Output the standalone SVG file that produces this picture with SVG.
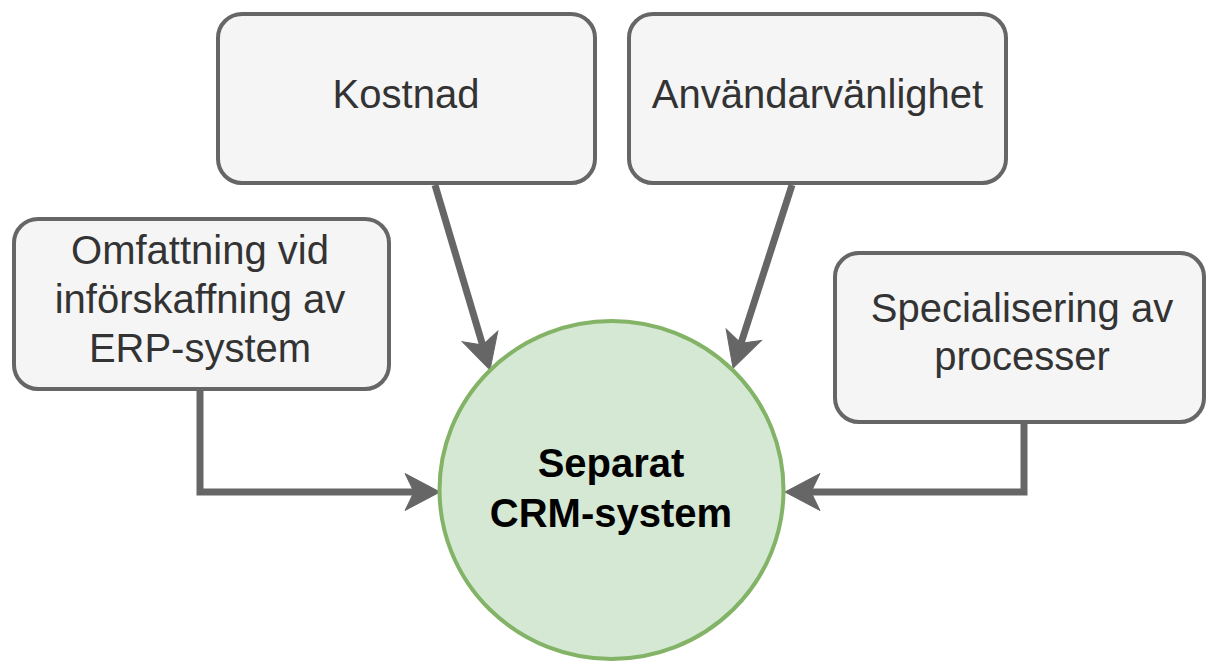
<svg xmlns="http://www.w3.org/2000/svg" width="1207" height="663" viewBox="0 0 1207 663">
  <style>
    .box { fill: #f5f5f5; stroke: #666666; stroke-width: 4; }
    .hub { fill: #d5e8d4; stroke: #82b366; stroke-width: 4; }
    .label { font-family: "Liberation Sans", Arial, sans-serif; font-size: 40px; fill: #333333; text-anchor: middle; }
    .hub-label { font-family: "Liberation Sans", Arial, sans-serif; font-size: 40px; font-weight: bold; fill: #000000; text-anchor: middle; }
    .edge { fill: none; stroke: #666666; stroke-width: 7; stroke-linejoin: miter; }
  </style>
  <defs>
    <!-- classic notched arrowhead; reference point sits at the notch -->
    <marker id="arrow" markerUnits="userSpaceOnUse" viewBox="-12 -22 42 44" refX="0" refY="0" markerWidth="42" markerHeight="44" orient="auto" overflow="visible">
      <path d="M 26 0 L -9 -18.5 L 0 0 L -9 18.5 Z" fill="#666666" stroke="#666666" stroke-width="1" stroke-linejoin="miter"/>
    </marker>
  </defs>

  <g id="connectors">
    <path class="edge" d="M 435 185 L 482.6 345.1" marker-end="url(#arrow)"/>
    <path class="edge" d="M 792 185 L 741 343.3" marker-end="url(#arrow)"/>
    <path class="edge" d="M 200 390 V 492 H 414" marker-end="url(#arrow)"/>
    <path class="edge" d="M 1024 423 V 492 H 811" marker-end="url(#arrow)"/>
  </g>

  <g id="kostnad">
    <rect class="box" x="218" y="14" width="377" height="169" rx="24" ry="24"/>
    <text class="label" x="406" y="108">Kostnad</text>
  </g>

  <g id="anvandarvanlighet">
    <rect class="box" x="629" y="14" width="377" height="169" rx="24" ry="24"/>
    <text class="label" x="817.5" y="108">Användarvänlighet</text>
  </g>

  <g id="omfattning">
    <rect class="box" x="14" y="219" width="375" height="170" rx="24" ry="24"/>
    <text class="label" x="200" y="264">Omfattning vid</text>
    <text class="label" x="200" y="313">införskaffning av</text>
    <text class="label" x="200" y="362">ERP-system</text>
  </g>

  <g id="specialisering">
    <rect class="box" x="835" y="253" width="369" height="169" rx="24" ry="24"/>
    <text class="label" x="1022" y="322">Specialisering av</text>
    <text class="label" x="1022" y="370">processer</text>
  </g>

  <g id="crm">
    <ellipse class="hub" cx="611.5" cy="490" rx="172" ry="169"/>
    <text class="hub-label" x="611" y="477">Separat</text>
    <text class="hub-label" x="611" y="527">CRM-system</text>
  </g>
</svg>
